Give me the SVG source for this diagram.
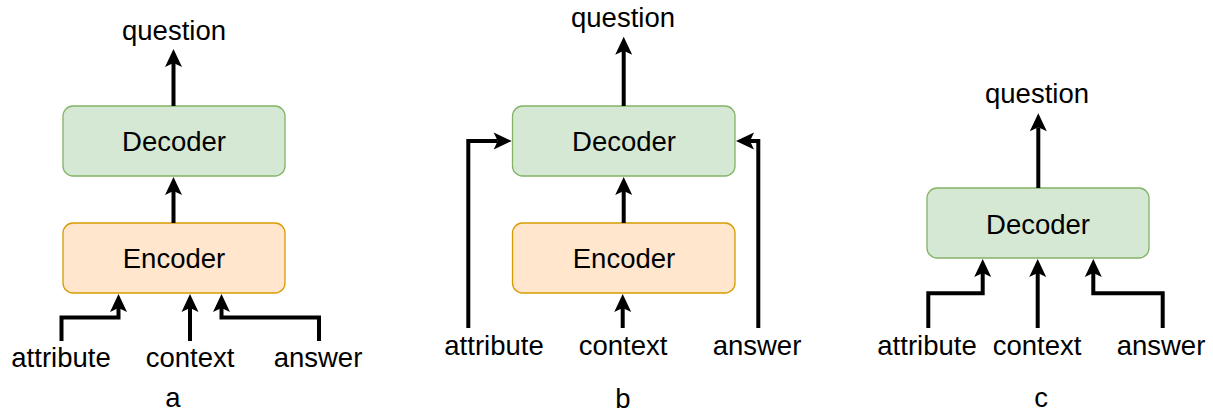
<svg xmlns="http://www.w3.org/2000/svg" width="1213" height="414" viewBox="0 0 1213 414">
<style>
text { font-family: "Liberation Sans", Arial, Helvetica, sans-serif; font-size: 27.5px; fill: #000; text-anchor: middle; }
.dec { fill: #d5e8d4; stroke: #82b366; stroke-width: 1.3; }
.enc { fill: #ffe6cc; stroke: #d79b00; stroke-width: 1.3; }
.edge { fill: none; stroke: #000; stroke-width: 4; stroke-linejoin: miter; marker-end: url(#arr); }
</style>
<defs>
<marker id="arr" markerUnits="userSpaceOnUse" markerWidth="20" markerHeight="20" refX="4" refY="0" orient="auto" viewBox="0 -10 20 20" overflow="visible">
<path d="M0,-8.5 L18,0 L0,8.5 L4,0 Z" fill="#000"/>
</marker>
</defs>
<rect width="1213" height="414" fill="#fff"/>

<!-- Panel a -->
<g id="a-decoder"><rect class="dec" x="63" y="106" width="222" height="70" rx="10"/><text x="174" y="151">Decoder</text></g>
<g id="a-encoder"><rect class="enc" x="63" y="223" width="222" height="70" rx="10"/><text x="174" y="268">Encoder</text></g>
<g id="a-question"><text x="174" y="40">question</text></g>
<g id="a-attribute"><text x="61" y="367">attribute</text></g>
<g id="a-context"><text x="190" y="367">context</text></g>
<g id="a-answer"><text x="318" y="367">answer</text></g>
<g id="a-label"><text x="173" y="407">a</text></g>

<!-- Panel b -->
<g id="b-decoder"><rect class="dec" x="512.5" y="106" width="222.5" height="70" rx="10"/><text x="624" y="151">Decoder</text></g>
<g id="b-encoder"><rect class="enc" x="512.5" y="223" width="222.5" height="70" rx="10"/><text x="624" y="268">Encoder</text></g>
<g id="b-question"><text x="623" y="27">question</text></g>
<g id="b-attribute"><text x="494" y="355">attribute</text></g>
<g id="b-context"><text x="623" y="355">context</text></g>
<g id="b-answer"><text x="757" y="355">answer</text></g>
<g id="b-label"><text x="623" y="408">b</text></g>

<!-- Panel c -->
<g id="c-decoder"><rect class="dec" x="927" y="188" width="222" height="70" rx="10"/><text x="1038" y="234">Decoder</text></g>
<g id="c-question"><text x="1037" y="103">question</text></g>
<g id="c-attribute"><text x="927" y="355">attribute</text></g>
<g id="c-context"><text x="1037" y="355">context</text></g>
<g id="c-answer"><text x="1161" y="355">answer</text></g>
<g id="c-label"><text x="1041" y="407">c</text></g>

<g id="connectors">
<path class="edge" d="M173.5,106 V63"/>
<path class="edge" d="M173.5,223 V191"/>
<path class="edge" d="M61.5,341 V317.5 H118.5 V308"/>
<path class="edge" d="M190,341 V308"/>
<path class="edge" d="M319,341 V317.5 H221.5 V308"/>

<path class="edge" d="M623.7,106 V50.7"/>
<path class="edge" d="M623.7,223 V191"/>
<path class="edge" d="M622.7,328 V308"/>
<path class="edge" d="M468.3,328 V141 H497.7"/>
<path class="edge" d="M758.3,328 V141 H750"/>

<path class="edge" d="M1038.3,188 V127.3"/>
<path class="edge" d="M928.3,328 V293.3 H982.7 V273"/>
<path class="edge" d="M1037.7,328 V273"/>
<path class="edge" d="M1162.7,328 V293.3 H1093.3 V273"/>
</g>
</svg>
